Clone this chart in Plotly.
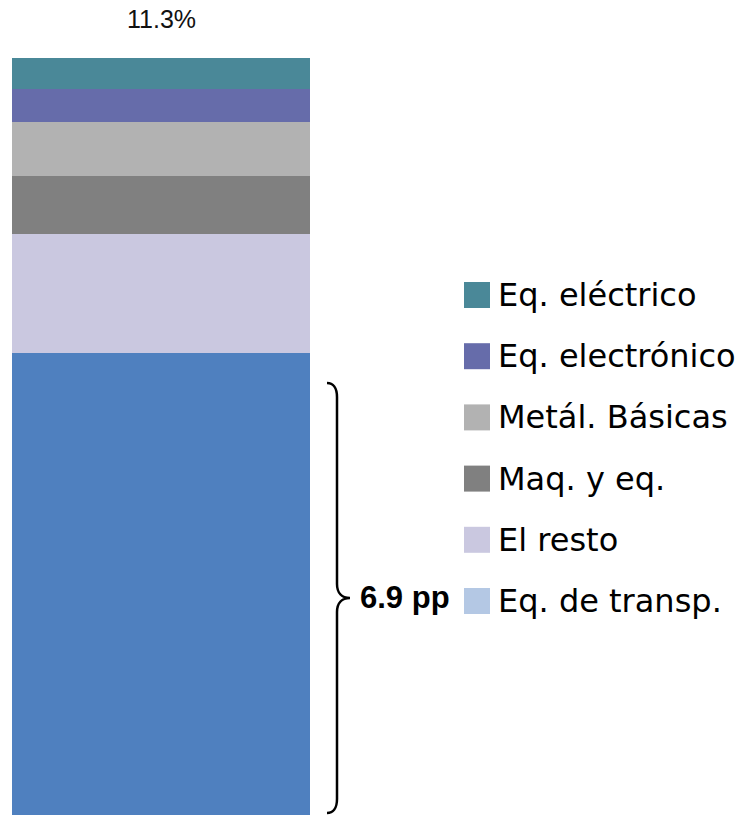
import plotly.graph_objects as go

# Stack order, bottom to top
categories = ["Eq. de transp.", "El resto", "Maq. y eq.", "Metál. Básicas",
              "Eq. electrónico", "Eq. eléctrico"]
values = [6.9, 1.77, 0.87, 0.80, 0.49, 0.47]
bar_colors = ["#4F80BF", "#CAC8E0", "#808080", "#B2B2B2", "#666CAA", "#4A8898"]
legend_colors = ["#B4C8E4", "#CAC8E0", "#808080", "#B2B2B2", "#666CAA", "#4A8898"]
total_label = "11.3%"
total_value = 11.3

W, H = 745, 815
M_TOP, M_BOT = 58, 0


def px_x(px):
    return px / W


def px_y(py):
    return (H - M_BOT - py) / (H - M_TOP - M_BOT)


fig = go.Figure()
for name, v, c in zip(categories, values, bar_colors):
    fig.add_trace(go.Bar(
        x=[""], y=[v], name=name, width=1,
        marker=dict(color=c, line=dict(width=0)),
        showlegend=False, hoverinfo="name+y",
    ))

annotations = []
shapes = []

# total above the bar
annotations.append(dict(
    x=0, y=total_value, xref="x", yref="y", text=total_label,
    showarrow=False, yanchor="middle", yshift=39,
    font=dict(family="Liberation Sans, Arial", size=25, color="#111111"),
))

# legend drawn as swatches + labels, top entry = top of the stack
row0, row_step = 295, 61.2
for i, (name, c) in enumerate(zip(categories[::-1], legend_colors[::-1])):
    cy = row0 + i * row_step
    shapes.append(dict(
        type="rect", xref="paper", yref="paper",
        x0=px_x(464), x1=px_x(490), y0=px_y(cy + 13), y1=px_y(cy - 13),
        fillcolor=c, line=dict(width=0),
    ))
    annotations.append(dict(
        x=px_x(496), y=px_y(cy), xref="paper", yref="paper", text=name,
        showarrow=False, xanchor="left", yanchor="middle",
        font=dict(family="DejaVu Sans", size=32, color="#000000"),
    ))

# brace next to the transport segment
transp = values[0]
lo, hi = 0.03, transp - 0.45
mid = (lo + hi) / 2
r = 0.21
xa, xb, xt = px_x(327), px_x(337), px_x(350)
xq = px_x(333)
xr = px_x(342)
path = (
    f"M {xa},{hi} C {xq},{hi} {xb},{hi - r * 0.35} {xb},{hi - r} "
    f"L {xb},{mid + r} C {xb},{mid + r * 0.35} {xr},{mid} {xt},{mid} "
    f"C {xr},{mid} {xb},{mid - r * 0.35} {xb},{mid - r} "
    f"L {xb},{lo + r} C {xb},{lo + r * 0.35} {xq},{lo} {xa},{lo}"
)
shapes.append(dict(type="path", xref="paper", yref="y", path=path,
                   line=dict(color="#000000", width=2.5)))
annotations.append(dict(
    x=px_x(358), y=mid, xref="paper", yref="y", text=f"<b>{transp:.1f} pp</b>",
    showarrow=False, xanchor="left", yanchor="middle",
    font=dict(family="Liberation Sans, Arial", size=31, color="#000000"),
))

fig.update_layout(
    width=W, height=H,
    margin=dict(l=0, r=0, t=M_TOP, b=M_BOT, pad=0),
    barmode="stack", bargap=0,
    paper_bgcolor="white", plot_bgcolor="white",
    xaxis=dict(domain=[px_x(12), px_x(310)], range=[-0.5, 0.5], visible=False),
    yaxis=dict(range=[0, total_value], visible=False),
    annotations=annotations, shapes=shapes,
    showlegend=False,
)

fig.write_html("out.html")
